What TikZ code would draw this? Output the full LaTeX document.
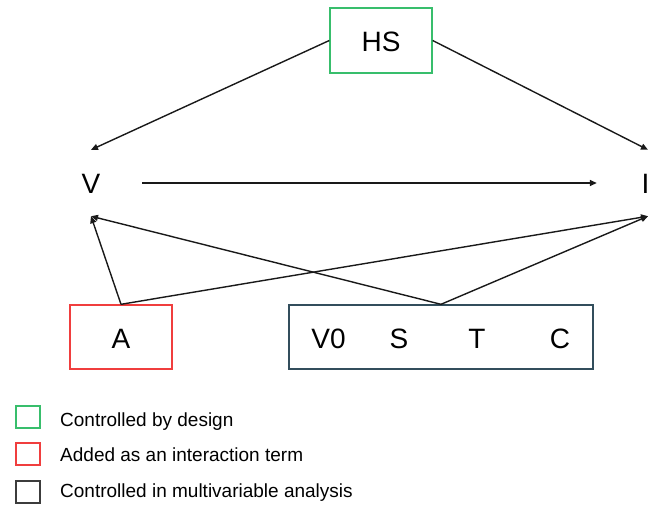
\documentclass[tikz,border=0pt]{standalone}
\usepackage{fontspec}
\setmainfont{Liberation Sans}
\usetikzlibrary{arrows.meta}
\definecolor{dgreen}{RGB}{56,190,108}
\definecolor{dred}{RGB}{240,62,62}
\definecolor{dslate}{RGB}{50,78,92}
\definecolor{dgray}{RGB}{60,60,60}
\begin{document}
\begin{tikzpicture}[x=1pt,y=-1pt,
  conn/.style={line width=1.4pt,draw=black!90,-{Triangle[length=7pt,width=6pt]}},
  varbox/.style={draw,line width=1.4pt,minimum height=64pt,inner sep=0pt},
  anchorbox/.style={inner sep=0pt,minimum width=102pt,minimum height=66pt},
  big/.style={font=\fontsize{28}{30}\selectfont,inner sep=0pt},
  leg/.style={font=\fontsize{19}{21}\selectfont,inner sep=0pt,anchor=base west},
  legbox/.style={draw,line width=1.4pt,minimum width=24pt,minimum height=22pt,inner sep=0pt}]
\useasboundingbox (0,0) rectangle (650,504);
% nodes
\node[varbox,draw=dgreen,minimum width=102pt,minimum height=65pt] (HS) at (381,40.5) {};
\node[big,anchor=base] (HSt) at (381,51) {HS};
\node[anchorbox] (V) at (91,183) {};
\node[big,anchor=base] (Vt) at (91,193) {V};
\node[anchorbox] (I) at (648,183) {};
\node[big,anchor=base] (It) at (645.5,193) {I};
\node[varbox,draw=dred,minimum width=102pt] (A) at (121,337) {};
\node[big,anchor=base] (At) at (121,348) {A};
\node[varbox,draw=dslate,minimum width=304pt] (B) at (441,337) {};
\node[big,anchor=base] (V0) at (328.5,348) {V0};
\node[big,anchor=base] (S) at (399,348) {S};
\node[big,anchor=base] (T) at (477,348) {T};
\node[big,anchor=base] (C) at (560,348) {C};
% connectors
\draw[conn] (HS.west) -- (V.north);
\draw[conn] (HS.east) -- (I.north);
\draw[conn] (V.east) -- (I.west);
\draw[conn] (A.north) -- (V.south);
\draw[conn] (A.north) -- (I.south);
\draw[conn] (B.north) -- (V.south);
\draw[conn] (B.north) -- (I.south);
% legend
\node[legbox,draw=dgreen] (L1) at (28,417) {};
\node[legbox,draw=dred] (L2) at (28,454) {};
\node[legbox,draw=dgray] (L3) at (28,492) {};
\node[leg] (T1) at (60,426) {Controlled by design};
\node[leg] (T2) at (60,461) {Added as an interaction term};
\node[leg] (T3) at (60,497) {Controlled in multivariable analysis};
\end{tikzpicture}
\end{document}
